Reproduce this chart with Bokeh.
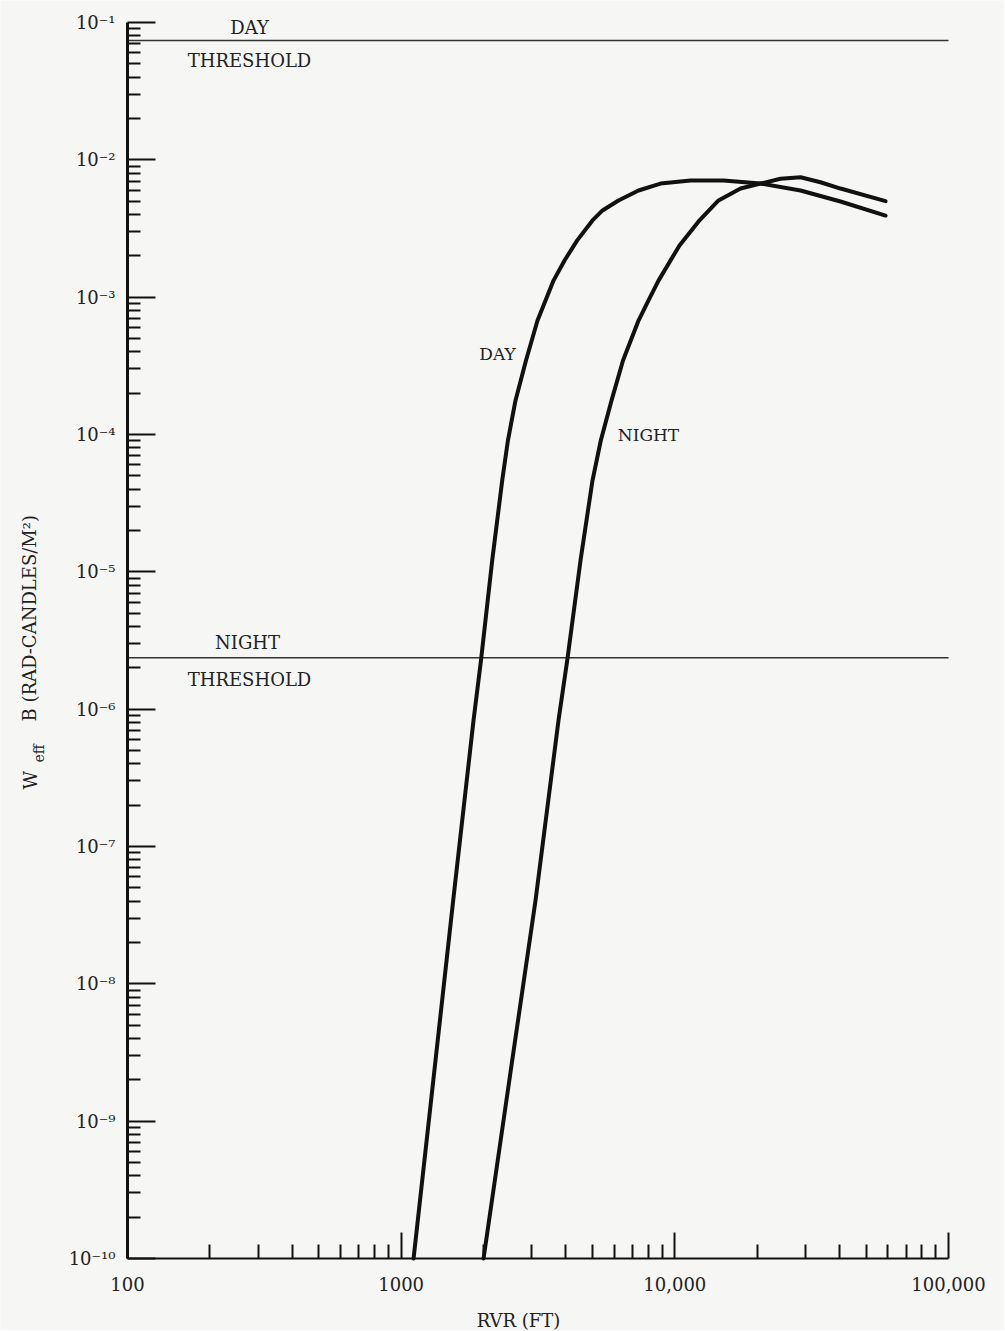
import math
from bokeh.plotting import figure
from bokeh.models import FixedTicker, CustomJSTickFormatter, Label
from bokeh.embed import file_html
from bokeh.resources import INLINE

# ---------------- data ----------------
day_rvr = [1110, 1335, 1549, 1838, 1961, 2151, 2340, 2455, 2617, 2858, 3149,
           3369, 3603, 3953, 4398, 5001, 5441, 6224, 7368, 8864, 11410, 15060,
           20560, 28790, 40300, 58880]
day_w = [1e-10, 2.765e-9, 4.04e-8, 8.27e-7, 2.34e-6, 1.21e-5, 4.62e-5, 9.04e-5,
         1.77e-4, 3.46e-4, 6.76e-4, 9.46e-4, 1.32e-3, 1.85e-3, 2.59e-3, 3.62e-3,
         4.28e-3, 5.06e-3, 5.98e-3, 6.72e-3, 7.07e-3, 7.07e-3, 6.72e-3, 5.98e-3,
         4.97e-3, 3.93e-3]

night_rvr = [2000, 2545, 3097, 3757, 4053, 4522, 5001, 5364, 5870, 6466, 7368,
             8013, 8716, 10400, 12210, 14440, 17380, 20560, 24330, 28790, 34060,
             40300, 58880]
night_w = [1e-10, 2.765e-9, 4.04e-8, 8.27e-7, 2.34e-6, 1.21e-5, 4.62e-5, 9.04e-5,
           1.77e-4, 3.46e-4, 6.76e-4, 9.46e-4, 1.32e-3, 2.38e-3, 3.56e-3, 5.06e-3,
           6.18e-3, 6.72e-3, 7.28e-3, 7.47e-3, 6.87e-3, 6.18e-3, 5.00e-3]

day_threshold = 7.4e-2
night_threshold = 2.37e-6

x_ticks = [100, 1000, 10000, 100000]
x_tick_labels = ["100", "1000", "10,000", "100,000"]
y_exps = [-10, -9, -8, -7, -6, -5, -4, -3, -2, -1]
y_tick_labels = ["10\u207b\u00b9\u2070", "10\u207b\u2079", "10\u207b\u2078", "10\u207b\u2077",
                 "10\u207b\u2076", "10\u207b\u2075", "10\u207b\u2074", "10\u207b\u00b3",
                 "10\u207b\u00b2", "10\u207b\u00b9"]

# ---------------- layout ----------------
W, H = 1004, 1330
AX_L, AX_R, AX_T, AX_B = 127, 948, 22, 1258      # axis box in page px
XMIN, XMAX = x_ticks[0], x_ticks[-1]
YMIN, YMAX = 10.0 ** y_exps[0], 10.0 ** y_exps[-1]
LX0, LX1 = math.log10(XMIN), math.log10(XMAX)
LY0, LY1 = math.log10(YMIN), math.log10(YMAX)

def px_x(px):   # page px -> data x
    return 10 ** (LX0 + (px - AX_L) / (AX_R - AX_L) * (LX1 - LX0))

def px_y(py):   # page px -> data y
    return 10 ** (LY1 - (py - AX_T) / (AX_B - AX_T) * (LY1 - LY0))

BG = "#f6f6f4"
INK = "#111111"
TXT = "#222222"
FONT = "DejaVu Serif"

p = figure(width=W, height=H, x_axis_type="log", y_axis_type="log",
           x_range=(px_x(0), px_x(W)), y_range=(px_y(H), px_y(0)),
           output_backend="svg", toolbar_location=None, min_border=0)
p.background_fill_color = BG
p.border_fill_color = BG
p.outline_line_color = None
p.grid.visible = False

# axes (placed at the data origin of the chart)
xa = p.xaxis[0]
xa.fixed_location = YMIN
xa.bounds = (XMIN, XMAX)
xa.ticker = FixedTicker(ticks=x_ticks,
                        minor_ticks=[k * 10 ** e for e in range(2, 5) for k in range(2, 10)])
xa.formatter = CustomJSTickFormatter(args=dict(xt=x_ticks, xl=x_tick_labels), code="""
    for (let i = 0; i < xt.length; i++) { if (Math.abs(tick - xt[i]) < 1e-6 * xt[i]) return xl[i]; }
    return '';
""")
xa.axis_line_width = 2
xa.axis_line_color = INK
xa.major_tick_in = 26
xa.major_tick_out = 0
xa.minor_tick_in = 14
xa.minor_tick_out = 0
xa.major_tick_line_width = 2
xa.minor_tick_line_width = 2
xa.major_tick_line_color = INK
xa.minor_tick_line_color = INK
xa.major_label_standoff = 18
xa.major_label_text_font = FONT
xa.major_label_text_font_size = "18px"
xa.major_label_text_color = TXT

ya = p.yaxis[0]
ya.fixed_location = XMIN
ya.bounds = (YMIN, YMAX)
ya.ticker = FixedTicker(ticks=[10.0 ** e for e in y_exps],
                        minor_ticks=[k * 10.0 ** e for e in range(y_exps[0], y_exps[-1]) for k in range(2, 10)])
ya.formatter = CustomJSTickFormatter(args=dict(ye=y_exps, yl=y_tick_labels), code="""
    const e = Math.round(Math.log10(tick));
    const i = ye.indexOf(e);
    return i >= 0 ? yl[i] : '';
""")
ya.axis_line_width = 3
ya.axis_line_color = INK
ya.major_tick_in = 28
ya.major_tick_out = 0
ya.minor_tick_in = 13
ya.minor_tick_out = 0
ya.major_tick_line_width = 2
ya.minor_tick_line_width = 2
ya.major_tick_line_color = INK
ya.minor_tick_line_color = INK
ya.major_label_standoff = 12
ya.major_label_text_font = FONT
ya.major_label_text_font_size = "18px"
ya.major_label_text_color = TXT

# threshold lines across the chart
for v in (day_threshold, night_threshold):
    p.line([XMIN, XMAX], [v, v], line_color="#333333", line_width=1.6)

# curves
p.line(day_rvr, day_w, line_color=INK, line_width=4, line_join="round", line_cap="round")
p.line(night_rvr, night_w, line_color=INK, line_width=4, line_join="round", line_cap="round")

def label(text, px, py, size="18px", align="center", angle=0.0, baseline="middle"):
    p.add_layout(Label(x=px_x(px), y=px_y(py), text=text, text_font=FONT,
                       text_font_size=size, text_color=TXT,
                       text_align=align, text_baseline=baseline, angle=angle))

label("DAY", 249, 27)
label("THRESHOLD", 249, 60)
label("NIGHT", 247, 642)
label("THRESHOLD", 249, 679)
label("DAY", 497, 353, size="17px")
label("NIGHT", 648, 434, size="17px")

# x axis title
label("RVR (FT)", 518, 1320)

# y axis title (rotated, with subscript)
label("W", 30, 789, align="left", angle=math.pi / 2)
label("eff", 38, 762, size="14px", align="left", angle=math.pi / 2)
label("B  (RAD-CANDLES/M\u00b2)", 29, 721, align="left", angle=math.pi / 2)

open("out.html", "w").write(file_html(p, INLINE))
